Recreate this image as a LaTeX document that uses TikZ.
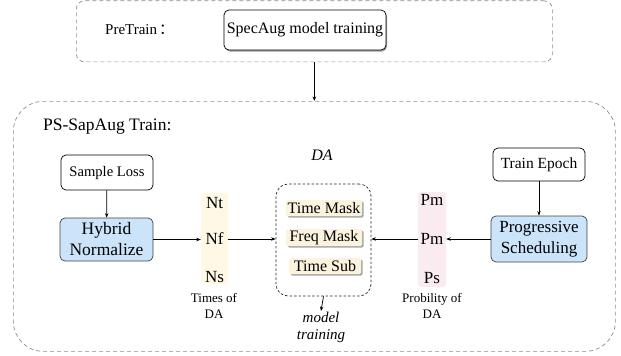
\documentclass[tikz,border=0pt]{standalone}
\usepackage{fontspec}
\setmainfont{Liberation Serif}
\newfontfamily\tnr{Liberation Serif}
\newfontfamily\cjkfont{Noto Sans CJK SC}
\usetikzlibrary{arrows.meta,shadows}
\definecolor{boxgray}{HTML}{8C8C8C}
\definecolor{hblue}{HTML}{CCE4FA}
\definecolor{nyellow}{HTML}{FFF8E5}
\definecolor{ppink}{HTML}{F9EBEF}
\definecolor{mfill}{HTML}{FCF3DF}
\newcommand{\fsz}[2]{\tnr\fontsize{#1}{#2}\selectfont}
\begin{document}
\begin{tikzpicture}[x=1pt,y=-1pt,
  >={Stealth[length=4.5pt,width=3.5pt]},
  conn/.style={->,line width=0.75pt,black},
  outerbox/.style={draw=boxgray,dash pattern=on 4pt off 3pt,line width=0.7pt,inner sep=0pt},
  plainbox/.style={draw=black,rounded corners=5pt,line width=0.7pt,fill=white,inner sep=0pt,align=center},
  bluebox/.style={draw=black!75,fill=hblue,rounded corners=5pt,line width=0.7pt,inner sep=0pt,align=center},
  strip/.style={rounded corners=3pt,inner sep=0pt,minimum width=27pt},
  mbox/.style={fill=mfill,rounded corners=1.5pt,inner sep=0pt,font=\fsz{16}{19},
    drop shadow={shadow xshift=1.5pt,shadow yshift=-1.5pt,fill=black!35,opacity=1}},
  vtxt/.style={font=\fsz{17}{20},inner sep=0pt},
  captxt/.style={font=\fsz{13}{16},align=center,inner sep=0pt}
]
\useasboundingbox (0,0) rectangle (621,356);

% outer dashed containers
\node[outerbox,rounded corners=8pt,minimum width=476pt,minimum height=61pt,anchor=north west] (pre) at (76,0.5) {};
\node[outerbox,rounded corners=30pt,minimum width=602pt,minimum height=250pt,anchor=north west] (big) at (13,101) {};

% pretrain row
\node[font=\fsz{15}{18},anchor=west,inner sep=0pt] (pretxt) at (105,30) {PreTrain\hspace{2pt}{\cjkfont ：}};
\node[plainbox,minimum width=162pt,minimum height=40pt,font=\fsz{16}{19},
  drop shadow={shadow xshift=1pt,shadow yshift=-1.5pt,fill=black!40,opacity=1}] (spec) at (305,30) {SpecAug model training};

% titles
\node[font=\fsz{17.5}{21},anchor=west,inner sep=0pt] (pstxt) at (43,127) {PS-SapAug Train:};
\node[font=\fsz{16}{19}\itshape,inner sep=0pt] (datxt) at (322,155) {DA};

% left chain
\node[plainbox,minimum width=92pt,minimum height=35pt,font=\fsz{14.6}{17}] (sl) at (107,172.5) {Sample Loss};
\node[bluebox,minimum width=93pt,minimum height=43pt,font=\fsz{17.5}{21}] (hn) at (106.5,239.5) {Hybrid\\Normalize};
\node[strip,fill=nyellow,minimum height=91pt] (ns) at (214.5,238.5) {};
\node[vtxt] (nt) at (214.5,203) {Nt};
\node[vtxt] (nf) at (214.5,239) {Nf};
\node[vtxt] (nss) at (214.5,277) {Ns};
\node[captxt] (ncap) at (214,306) {Times of\\DA};

% DA box
\node[draw=black!85,dash pattern=on 2.5pt off 2pt,line width=0.7pt,rounded corners=12pt,
  minimum width=95pt,minimum height=112pt,inner sep=0pt] (dabox) at (323.5,240) {};
\node[mbox,minimum width=76pt,minimum height=16pt] (tm) at (324,208) {Time Mask};
\node[mbox,minimum width=76pt,minimum height=17pt] (fm) at (324,237.5) {Freq Mask};
\node[mbox,minimum width=72pt,minimum height=16pt] (ts) at (325,266) {Time Sub};
\node[font=\fsz{15}{17}\itshape,align=center,inner sep=1pt,anchor=north] (mt) at (321,311) {model\\training};

% right chain
\node[plainbox,minimum width=92pt,minimum height=33pt,font=\fsz{15.5}{18}] (te) at (539,164.5) {Train Epoch};
\node[bluebox,minimum width=96pt,minimum height=46pt,font=\fsz{17}{21}] (ps) at (539,239) {Progressive\\Scheduling};
\node[strip,fill=ppink,minimum width=28pt,minimum height=95pt] (pst) at (432,239.5) {};
\node[vtxt] (pm1) at (432,200) {Pm};
\node[vtxt] (pm2) at (432,239) {Pm};
\node[vtxt] (pss) at (432,278) {Ps};
\node[captxt] (pcap) at (432,306) {Probility of\\DA};

% connectors
\draw[conn] (pre.south) -- (big.north);
\draw[conn] (sl) -- (hn);
\draw[conn] (hn.east) -- (hn.east -| ns.west);
\draw[conn] (ns.east |- nf) -- (nf -| dabox.west);
\draw[conn] (te) -- (ps);
\draw[conn] (ps.west) -- (ps.west -| pst.east);
\draw[conn] (pst.west |- pm2) -- (pm2 -| dabox.east);
\draw[conn] (dabox.south) -- (mt.north);
\end{tikzpicture}
\end{document}
